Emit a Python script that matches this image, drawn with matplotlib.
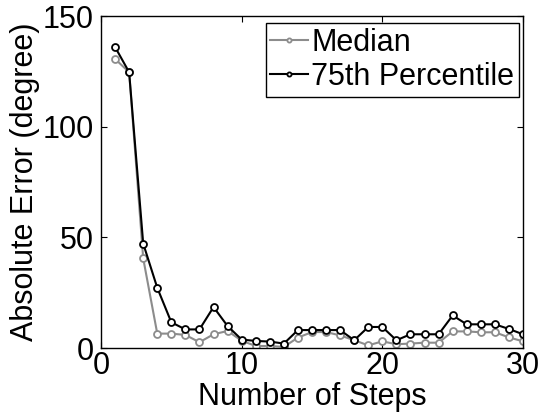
import matplotlib
matplotlib.use("Agg")
import matplotlib.pyplot as plt

steps = list(range(1, 31))
median = [130.6, 124.6, 40.5, 6.5, 6.5, 5.9, 2.6, 6.2, 7.7, 3.3,
          0.9, 0.9, 0.5, 4.7, 7.2, 7.2, 5.7, 3.5, 1.2, 3.0,
          1.7, 2.0, 2.4, 2.4, 7.5, 7.5, 7.1, 7.1, 4.8, 3.0]
p75 = [136.0, 124.6, 47.2, 27.2, 11.6, 8.4, 8.4, 18.5, 9.9, 3.8,
       3.2, 2.9, 2.0, 8.1, 8.1, 8.1, 8.1, 3.5, 9.5, 9.5,
       3.5, 6.2, 6.2, 6.2, 14.7, 10.7, 10.7, 10.7, 8.6, 6.2]

plt.rcParams["font.family"] = ["Liberation Sans", "DejaVu Sans"]

W, H = 540, 412
fig = plt.figure(figsize=(W / 100, H / 100), dpi=100)
ax = fig.add_axes([101 / W, (H - 348) / H, 422 / W, 332 / H])

ax.plot(steps, median, color="#8c8c8c", lw=1.5, marker="o", ms=5,
        mfc="white", mec="#8c8c8c", mew=1.3, label="Median")
ax.plot(steps, p75, color="black", lw=1.5, marker="o", ms=5,
        mfc="white", mec="black", mew=1.3, label="75th Percentile")

ax.set_xlim(0, 30)
ax.set_ylim(0, 150)
ax.set_xticks([0, 10, 20, 30])
ax.set_yticks([0, 50, 100, 150])
ax.tick_params(direction="in", top=True, right=True, labelsize=22, length=4)
ax.tick_params(axis="x", pad=2)
ax.tick_params(axis="y", pad=5)
for s in ax.spines.values():
    s.set_linewidth(1.0)

ax.set_xlabel("Number of Steps", fontsize=22, labelpad=1)
ax.set_ylabel("Absolute Error (degree)", fontsize=22, labelpad=2)

leg = ax.legend(loc="upper right", bbox_to_anchor=(519 / W, (H - 23) / H),
                bbox_transform=fig.transFigure, fontsize=22, frameon=True,
                fancybox=False, edgecolor="black", framealpha=1,
                handlelength=1.25, handletextpad=0.1, borderpad=0.15,
                labelspacing=0.15, borderaxespad=0, markerscale=0.6)
leg.get_frame().set_linewidth(1.0)

fig.savefig("out.png", dpi=100)
